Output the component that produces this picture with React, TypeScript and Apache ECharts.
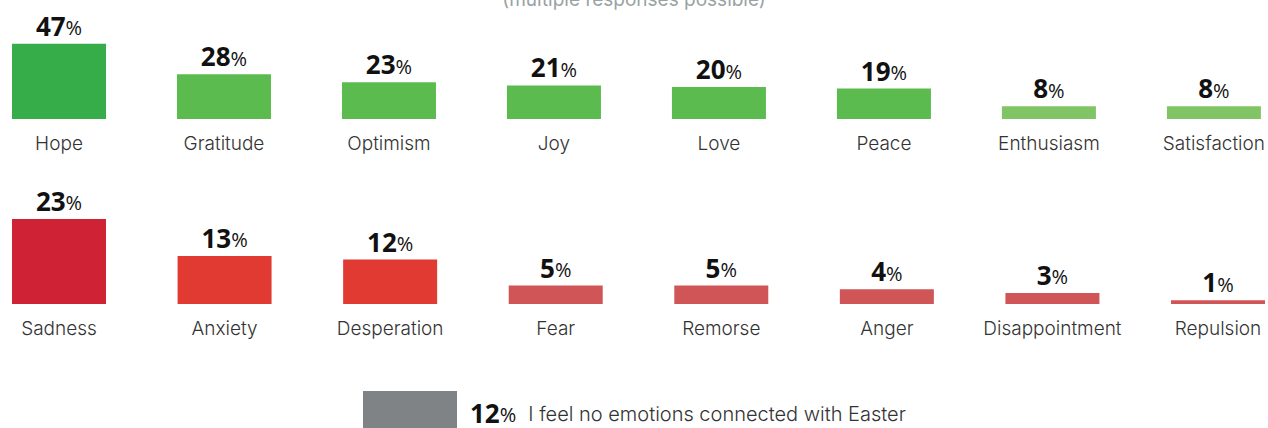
import React, { useEffect, useRef } from "react";
import * as echarts from "echarts";

const positiveCategories = ["Hope", "Gratitude", "Optimism", "Joy", "Love", "Peace", "Enthusiasm", "Satisfaction"];
const positiveValues = [47, 28, 23, 21, 20, 19, 8, 8];
const positiveColors = ["#37ad4a", "#5cbb4f", "#5cbb4f", "#5cbb4f", "#5cbb4f", "#5cbb4f", "#80c466", "#80c466"];

const negativeCategories = ["Sadness", "Anxiety", "Desperation", "Fear", "Remorse", "Anger", "Disappointment", "Repulsion"];
const negativeValues = [23, 13, 12, 5, 5, 4, 3, 1];
const negativeColors = ["#cf2234", "#e03a33", "#e03a33", "#d05556", "#d05556", "#d05556", "#d05556", "#d05556"];

const noneCategories = ["I feel no emotions connected with Easter"];
const noneValues = [12];
const noneColor = "#808385";

const subtitle = "(multiple responses possible)";

const catFont = "Inter, 'Noto Sans', sans-serif";
const numFont = "'Open Sans', 'Noto Sans', sans-serif";

const valueRich = {
  a: { fontFamily: numFont, fontWeight: 700, fontSize: 26, color: "#111" },
  b: { fontFamily: numFont, fontWeight: 400, fontSize: 20, color: "#111", padding: [4, 0, 0, 0] },
};

function rowAxis(idx: number, cats: string[]) {
  return {
    type: "category",
    gridIndex: idx,
    data: cats,
    boundaryGap: false,
    axisLine: { show: false },
    axisTick: { show: false },
    axisLabel: {
      interval: 0,
      margin: 15,
      fontFamily: catFont,
      fontSize: 19,
      fontWeight: 300,
      color: "#333",
    },
  };
}

export default function App() {
  const ref = useRef<HTMLDivElement>(null);
  useEffect(() => {
    if (!ref.current) return;
    const chart = echarts.init(ref.current, undefined, { renderer: "svg" });
    const barLabel = {
      show: true,
      position: "top",
      distance: 5,
      formatter: (p: any) => `{a|${p.value}}{b|%}`,
      rich: valueRich,
    };
    chart.setOption({
      animation: false,
      title: {
        text: subtitle,
        left: "center",
        top: -15,
        textStyle: { fontFamily: catFont, fontSize: 19, fontWeight: 400, color: "#98a3a3" },
      },
      grid: [
        { left: 59, width: 1159, top: 39, height: 80 },
        { left: 59, width: 1159, top: 211.5, height: 92.5 },
        { left: 363, width: 94, top: 391, height: 48 },
      ],
      xAxis: [
        rowAxis(0, positiveCategories),
        rowAxis(1, negativeCategories),
        { type: "category", gridIndex: 2, data: noneCategories, show: false },
      ],
      yAxis: [
        { type: "value", gridIndex: 0, min: 0, max: 50, show: false },
        { type: "value", gridIndex: 1, min: 0, max: 25, show: false },
        { type: "value", gridIndex: 2, min: 0, max: 12, show: false },
      ],
      series: [
        {
          type: "bar",
          xAxisIndex: 0,
          yAxisIndex: 0,
          barWidth: 94,
          clip: false,
          data: positiveValues.map((v, i) => ({ value: v, itemStyle: { color: positiveColors[i] } })),
          label: barLabel,
        },
        {
          type: "bar",
          xAxisIndex: 1,
          yAxisIndex: 1,
          barWidth: 94,
          clip: false,
          data: negativeValues.map((v, i) => ({ value: v, itemStyle: { color: negativeColors[i] } })),
          label: barLabel,
        },
        {
          type: "bar",
          xAxisIndex: 2,
          yAxisIndex: 2,
          barWidth: 94,
          clip: false,
          data: noneValues.map((v) => ({ value: v, itemStyle: { color: noneColor } })),
          label: {
            show: true,
            position: "right",
            distance: 13,
            offset: [0, 3],
            formatter: (p: any) => `{a|${p.value}}{b|%}{c|${p.name}}`,
            rich: {
              a: { fontFamily: numFont, fontWeight: 700, fontSize: 26, color: "#111" },
              b: { fontFamily: numFont, fontWeight: 400, fontSize: 20, color: "#111", padding: [4, 0, 0, 0] },
              c: { fontFamily: catFont, fontSize: 20, fontWeight: 300, color: "#333", padding: [3, 0, 0, 12] },
            },
          },
        },
      ],
    });
    return () => chart.dispose();
  }, []);
  return <div ref={ref} style={{ width: 1268, height: 428, position: "absolute", left: 0, top: 0 }} />;
}
